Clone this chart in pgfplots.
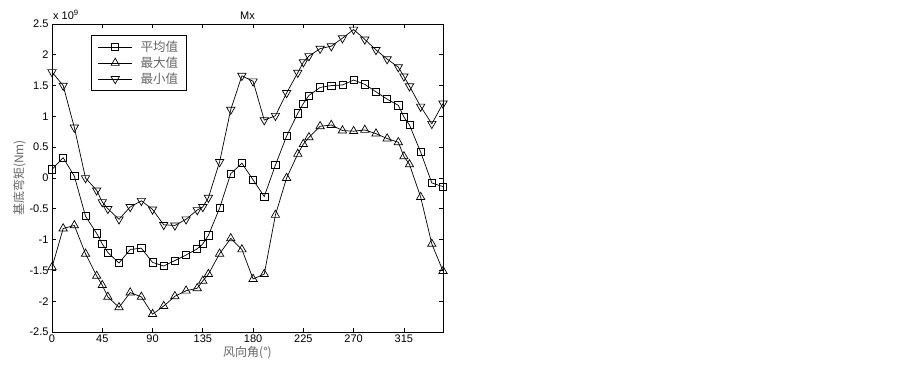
\documentclass[border=0pt]{standalone}
\usepackage{pgfplots}
\pgfplotsset{compat=1.18}
\usepackage{pgfplotstable}
\usepackage{fontspec}
\setmainfont{Liberation Sans}
\newfontfamily\cjk{Noto Sans CJK SC}
\pgfplotstableread{
ang avg mx mn
0 0.14 -1.45 1.72
10 0.33 -0.82 1.50
20 0.03 -0.77 0.82
30 -0.62 -1.23 0.00
40 -0.90 -1.59 -0.20
45 -1.07 -1.74 -0.39
50 -1.21 -1.93 -0.50
60 -1.38 -2.10 -0.67
70 -1.16 -1.86 -0.47
80 -1.14 -1.93 -0.37
90 -1.37 -2.21 -0.51
100 -1.43 -2.08 -0.76
110 -1.34 -1.92 -0.77
120 -1.25 -1.83 -0.67
130 -1.15 -1.79 -0.52
135 -1.07 -1.67 -0.47
140 -0.93 -1.56 -0.32
150 -0.49 -1.23 0.26
160 0.07 -0.98 1.11
170 0.24 -1.16 1.66
180 -0.03 -1.64 1.57
190 -0.30 -1.56 0.94
200 0.21 -0.60 1.01
210 0.68 0.00 1.38
220 1.05 0.39 1.71
225 1.21 0.55 1.88
230 1.34 0.66 1.98
240 1.47 0.84 2.10
250 1.50 0.86 2.14
260 1.51 0.77 2.27
270 1.59 0.76 2.41
280 1.52 0.78 2.25
290 1.40 0.72 2.08
300 1.28 0.64 1.93
310 1.18 0.58 1.80
315 0.99 0.35 1.65
320 0.86 0.22 1.49
330 0.42 -0.31 1.16
340 -0.08 -1.07 0.88
350 -0.14 -1.51 1.21
}\data
\begin{document}
\begin{tikzpicture}
\path[use as bounding box] (0,0) rectangle (903pt,365pt);
\begin{axis}[
  at={(52pt,33pt)}, anchor=south west,
  scale only axis, width=391pt, height=308pt,
  xmin=0, xmax=350, ymin=-2.5, ymax=2.5,
  xtick={0,45,...,315},
  ytick={-2.5,-2,...,2.5},
  tick align=inside,
  major tick length=4pt,
  axis line style={line width=0.8pt},
  tick style={line width=0.8pt, black},
  /pgf/number format/assume math mode=true,
  /pgf/number format/fixed,
  ticklabel style={font=\fontsize{11}{13}\selectfont},
  yticklabel style={xshift=0pt},
  xticklabel style={yshift=1pt},
  clip=false,
  title={Mx},
  title style={font=\fontsize{11}{13}\selectfont, yshift=-5pt},
  xlabel={\cjk 风向角(°)},
  ylabel={\cjk 基底弯矩(Nm)},
  xlabel style={font=\fontsize{12}{14}\selectfont, text=black!60, yshift=3pt},
  ylabel style={font=\fontsize{12}{14}\selectfont, text=black!60, yshift=-3pt},
  legend style={at={(0.0997,0.964)}, anchor=north west, draw=black, line width=0.8pt,
    fill=white, font=\fontsize{12.5}{15}\selectfont\cjk, text=black!60,
    inner xsep=6.5pt, inner ysep=3.5pt, row sep=0pt},
  legend cell align=left,
  legend image code/.code={\path (0pt,0pt) (40pt,0pt);\draw[mark repeat=2,mark phase=2,#1] plot coordinates {(0pt,0pt) (17pt,0pt) (34pt,0pt)};},
]
\addplot[black, line width=0.7pt, mark=square, mark size=3.6pt, mark options={solid, fill=none}] table[x=ang, y=avg] {\data};
\addlegendentry{平均值}
\addplot[black, line width=0.7pt, mark=triangle, mark size=4.8pt, mark options={solid, fill=none}] table[x=ang, y=mx] {\data};
\addlegendentry{最大值}
\addplot[black, line width=0.7pt, mark=triangle, mark size=4.8pt, mark options={solid, fill=none, rotate=180}] table[x=ang, y=mn] {\data};
\addlegendentry{最小值}
\node[anchor=south west, font=\fontsize{11}{13}\selectfont, inner sep=0pt] at (rel axis cs:0,1) [yshift=4pt, xshift=1pt] {x 10\textsuperscript{9}};
\end{axis}
\end{tikzpicture}
\end{document}
